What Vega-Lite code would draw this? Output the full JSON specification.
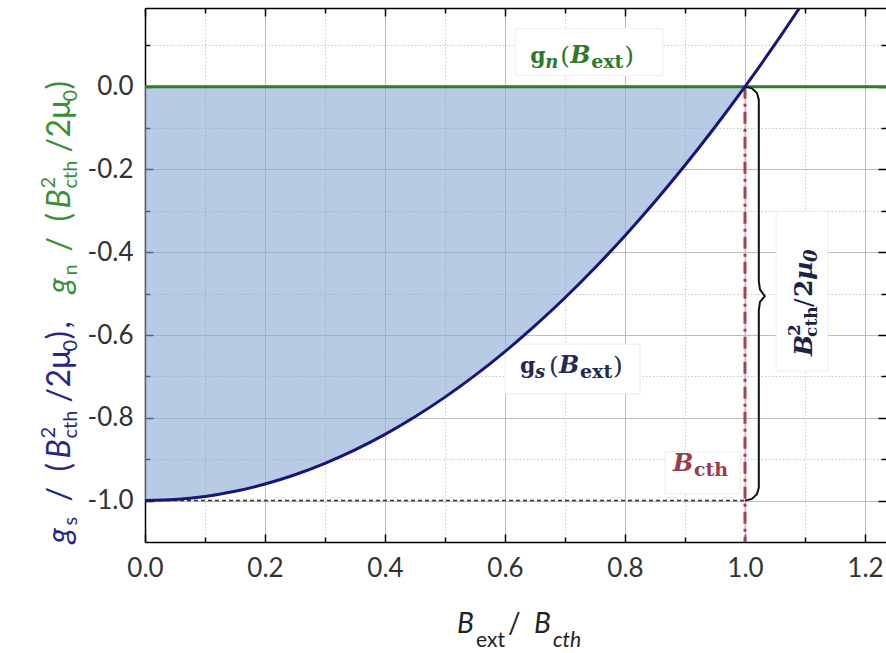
{
  "$schema": "https://vega.github.io/schema/vega-lite/v6.json",
  "width": 741,
  "height": 534,
  "autosize": {"type": "none"},
  "padding": {"left": 145, "top": 8, "right": 0, "bottom": 111},
  "background": "white",
  "config": {
    "view": {"stroke": null},
    "axis": {
      "labelFont": "Lato",
      "labelFontSize": 26,
      "labelColor": "#333333",
      "tickColor": "#000000",
      "domainColor": "#000000",
      "domainWidth": 1.5,
      "tickWidth": 1.5
    }
  },
  "datasets": {
    "gs": [
      {"b": 0.0, "g": -1.0}, {"b": 0.05, "g": -0.9975}, {"b": 0.1, "g": -0.99}, {"b": 0.15, "g": -0.9775},
      {"b": 0.2, "g": -0.96}, {"b": 0.25, "g": -0.9375}, {"b": 0.3, "g": -0.91}, {"b": 0.35, "g": -0.8775},
      {"b": 0.4, "g": -0.84}, {"b": 0.45, "g": -0.7975}, {"b": 0.5, "g": -0.75}, {"b": 0.55, "g": -0.6975},
      {"b": 0.6, "g": -0.64}, {"b": 0.65, "g": -0.5775}, {"b": 0.7, "g": -0.51}, {"b": 0.75, "g": -0.4375},
      {"b": 0.8, "g": -0.36}, {"b": 0.85, "g": -0.2775}, {"b": 0.9, "g": -0.19}, {"b": 0.95, "g": -0.0975},
      {"b": 1.0, "g": 0.0}, {"b": 1.05, "g": 0.1025}, {"b": 1.1, "g": 0.21}
    ],
    "brace": [
      {"i": 0, "b": 1.0, "g": 0.0}, {"i": 1, "b": 1.0115, "g": -0.0042}, {"i": 2, "b": 1.0199, "g": -0.0155},
      {"i": 3, "b": 1.023, "g": -0.031}, {"i": 4, "b": 1.023, "g": -0.47}, {"i": 5, "b": 1.025, "g": -0.49},
      {"i": 6, "b": 1.033, "g": -0.506}, {"i": 7, "b": 1.025, "g": -0.52}, {"i": 8, "b": 1.023, "g": -0.54},
      {"i": 9, "b": 1.023, "g": -0.969}, {"i": 10, "b": 1.0199, "g": -0.9845}, {"i": 11, "b": 1.0115, "g": -0.9958},
      {"i": 12, "b": 1.0, "g": -1.0}
    ],
    "boxes": [
      {"x1": 0.617, "x2": 0.863, "y1": 0.14, "y2": 0.0265},
      {"x1": 0.6, "x2": 0.825, "y1": -0.622, "y2": -0.742},
      {"x1": 0.867, "x2": 0.992, "y1": -0.882, "y2": -0.983},
      {"x1": 1.052, "x2": 1.138, "y1": -0.301, "y2": -0.687}
    ]
  },
  "resolve": {"axis": {"x": "independent", "y": "independent"}},
  "layer": [
    {
      "data": {"name": "boxes"},
      "mark": {"type": "rect", "fill": "white", "stroke": "#ececec", "strokeWidth": 1},
      "encoding": {
        "x": {"field": "x1", "type": "quantitative", "scale": {"domain": [0, 1.235], "nice": false, "zero": false}, "axis": null},
        "x2": {"field": "x2"},
        "y": {"field": "y1", "type": "quantitative", "scale": {"domain": [-1.1, 0.19], "nice": false, "zero": false}, "axis": null},
        "y2": {"field": "y2"}
      }
    },
    {
      "data": {"name": "gs"},
      "transform": [{"filter": "datum.b <= 1"}],
      "mark": {"type": "area", "color": "#89a8d2", "opacity": 0.6, "interpolate": "monotone"},
      "encoding": {
        "x": {"field": "b", "type": "quantitative", "scale": {"domain": [0, 1.235], "nice": false, "zero": false},
          "axis": {"orient": "bottom", "values": [0, 0.2, 0.4, 0.6, 0.8, 1.0, 1.2], "format": ".1f", "tickSize": -8, "labelPadding": 21,
            "grid": true, "gridColor": "#bdbdbd", "gridWidth": 1, "domain": true, "title": null, "labelFlush": false, "labelOverlap": false,
            "labelExpr": "replace(datum.label, '\u2212', '-')"}},
        "y": {"field": "g", "type": "quantitative", "scale": {"domain": [-1.1, 0.19], "nice": false, "zero": false},
          "axis": {"orient": "left", "values": [-1.0, -0.8, -0.6, -0.4, -0.2, 0.0], "format": ".1f", "tickSize": -8, "labelPadding": 20,
            "grid": true, "gridColor": "#bdbdbd", "gridWidth": 1, "domain": true, "title": null, "labelFlush": false, "labelOverlap": false,
            "labelExpr": "replace(datum.label, '\u2212', '-')"}},
        "y2": {"datum": 0}
      }
    },
    {
      "data": {"values": [{}]},
      "mark": {"type": "rule", "color": "#333333", "strokeWidth": 1.5, "strokeDash": [4, 3]},
      "encoding": {
        "x": {"datum": 0, "type": "quantitative", "scale": {"domain": [0, 1.235], "nice": false, "zero": false},
          "axis": {"orient": "bottom", "values": [0.1, 0.3, 0.5, 0.7, 0.9, 1.1], "tickSize": -5, "labels": false, "domain": false,
            "grid": true, "gridColor": "#c8c8c8", "gridDash": [1.5, 2], "title": null}},
        "x2": {"datum": 1},
        "y": {"datum": -1, "type": "quantitative", "scale": {"domain": [-1.1, 0.19], "nice": false, "zero": false},
          "axis": {"orient": "left", "values": [-0.9, -0.7, -0.5, -0.3, -0.1, 0.1], "tickSize": -5, "labels": false, "domain": false,
            "grid": true, "gridColor": "#c8c8c8", "gridDash": [1.5, 2], "title": null}}
      }
    },
    {
      "data": {"values": [{}]},
      "mark": {"type": "rule", "color": "#e6a9ae", "strokeWidth": 1},
      "encoding": {
        "x": {"datum": 1, "type": "quantitative", "scale": {"domain": [0, 1.235], "nice": false, "zero": false},
          "axis": {"orient": "top", "values": [0, 0.2, 0.4, 0.6, 0.8, 1.0, 1.2], "tickSize": -8, "labels": false, "domain": true, "grid": false, "title": null}},
        "y": {"datum": 0, "type": "quantitative", "scale": {"domain": [-1.1, 0.19], "nice": false, "zero": false},
          "axis": {"orient": "right", "values": [-1.0, -0.8, -0.6, -0.4, -0.2, 0.0], "tickSize": -8, "labels": false, "domain": false, "grid": false, "title": null}},
        "y2": {"datum": -1.1}
      }
    },
    {
      "data": {"values": [{}]},
      "mark": {"type": "rule", "color": "#a2434f", "strokeWidth": 3, "strokeDash": [12, 5, 3, 5]},
      "encoding": {
        "x": {"datum": 1, "type": "quantitative", "scale": {"domain": [0, 1.235], "nice": false, "zero": false},
          "axis": {"orient": "top", "values": [0.1, 0.3, 0.5, 0.7, 0.9, 1.1], "tickSize": -5, "labels": false, "domain": false, "grid": false, "title": null}},
        "y": {"datum": 0, "type": "quantitative", "scale": {"domain": [-1.1, 0.19], "nice": false, "zero": false},
          "axis": {"orient": "right", "values": [-0.9, -0.7, -0.5, -0.3, -0.1, 0.1], "tickSize": -5, "labels": false, "domain": false, "grid": false, "title": null}},
        "y2": {"datum": -1.1}
      }
    },
    {
      "data": {"values": [{}]},
      "mark": {"type": "rule", "color": "#2a7d2a", "strokeWidth": 3},
      "encoding": {
        "y": {"datum": 0, "type": "quantitative", "scale": {"domain": [-1.1, 0.19], "nice": false, "zero": false}, "axis": null}
      }
    },
    {
      "data": {"name": "gs"},
      "mark": {"type": "line", "color": "#16167a", "strokeWidth": 3, "clip": true, "interpolate": "monotone"},
      "encoding": {
        "x": {"field": "b", "type": "quantitative", "scale": {"domain": [0, 1.235], "nice": false, "zero": false}, "axis": null},
        "y": {"field": "g", "type": "quantitative", "scale": {"domain": [-1.1, 0.19], "nice": false, "zero": false}, "axis": null}
      }
    },
    {
      "data": {"name": "brace"},
      "mark": {"type": "line", "color": "#111111", "strokeWidth": 2},
      "encoding": {
        "x": {"field": "b", "type": "quantitative", "scale": {"domain": [0, 1.235], "nice": false, "zero": false}, "axis": null},
        "y": {"field": "g", "type": "quantitative", "scale": {"domain": [-1.1, 0.19], "nice": false, "zero": false}, "axis": null},
        "order": {"field": "i", "type": "quantitative"}
      }
    },
    {
      "data": {"values": [{}]},
      "encoding": {
        "x": {"datum": 0.642, "type": "quantitative", "scale": {"domain": [0, 1.235], "nice": false, "zero": false}, "axis": null},
        "y": {"datum": 0.058, "type": "quantitative", "scale": {"domain": [-1.1, 0.19], "nice": false, "zero": false}, "axis": null}
      },
      "layer": [
        {"mark": {"type": "text", "text": "g", "font": "DejaVu Serif", "fontWeight": "bold", "fontSize": 22, "align": "left", "baseline": "alphabetic", "dx": 0, "color": "#2d7a2d"}},
        {"mark": {"type": "text", "text": "n", "font": "DejaVu Serif", "fontWeight": "bold", "fontStyle": "italic", "fontSize": 18, "align": "left", "baseline": "alphabetic", "dx": 15, "dy": 5, "color": "#2d7a2d"}},
        {"mark": {"type": "text", "text": "(", "font": "DejaVu Serif", "fontSize": 25, "align": "left", "baseline": "alphabetic", "dx": 30, "dy": 1, "color": "#2d7a2d"}},
        {"mark": {"type": "text", "text": "B", "font": "DejaVu Serif", "fontWeight": "bold", "fontStyle": "italic", "fontSize": 24, "align": "left", "baseline": "alphabetic", "dx": 40, "color": "#2d7a2d"}},
        {"mark": {"type": "text", "text": "ext", "font": "DejaVu Serif", "fontWeight": "bold", "fontSize": 19, "align": "left", "baseline": "alphabetic", "dx": 61, "dy": 5, "color": "#2d7a2d"}},
        {"mark": {"type": "text", "text": ")", "font": "DejaVu Serif", "fontSize": 25, "align": "left", "baseline": "alphabetic", "dx": 94, "dy": 1, "color": "#2d7a2d"}}
      ]
    },
    {
      "data": {"values": [{}]},
      "encoding": {
        "x": {"datum": 0.625, "type": "quantitative", "scale": {"domain": [0, 1.235], "nice": false, "zero": false}, "axis": null},
        "y": {"datum": -0.692, "type": "quantitative", "scale": {"domain": [-1.1, 0.19], "nice": false, "zero": false}, "axis": null}
      },
      "layer": [
        {"mark": {"type": "text", "text": "g", "font": "DejaVu Serif", "fontWeight": "bold", "fontSize": 22, "align": "left", "baseline": "alphabetic", "dx": 0, "color": "#252a50"}},
        {"mark": {"type": "text", "text": "s", "font": "DejaVu Serif", "fontWeight": "bold", "fontStyle": "italic", "fontSize": 18, "align": "left", "baseline": "alphabetic", "dx": 15, "dy": 5, "color": "#252a50"}},
        {"mark": {"type": "text", "text": "(", "font": "DejaVu Serif", "fontSize": 25, "align": "left", "baseline": "alphabetic", "dx": 29, "dy": 1, "color": "#252a50"}},
        {"mark": {"type": "text", "text": "B", "font": "DejaVu Serif", "fontWeight": "bold", "fontStyle": "italic", "fontSize": 24, "align": "left", "baseline": "alphabetic", "dx": 39, "color": "#252a50"}},
        {"mark": {"type": "text", "text": "ext", "font": "DejaVu Serif", "fontWeight": "bold", "fontSize": 19, "align": "left", "baseline": "alphabetic", "dx": 60, "dy": 5, "color": "#252a50"}},
        {"mark": {"type": "text", "text": ")", "font": "DejaVu Serif", "fontSize": 25, "align": "left", "baseline": "alphabetic", "dx": 93, "dy": 1, "color": "#252a50"}}
      ]
    },
    {
      "data": {"values": [{}]},
      "encoding": {
        "x": {"datum": 0.88, "type": "quantitative", "scale": {"domain": [0, 1.235], "nice": false, "zero": false}, "axis": null},
        "y": {"datum": -0.928, "type": "quantitative", "scale": {"domain": [-1.1, 0.19], "nice": false, "zero": false}, "axis": null}
      },
      "layer": [
        {"mark": {"type": "text", "text": "B", "font": "DejaVu Serif", "fontWeight": "bold", "fontStyle": "italic", "fontSize": 24, "align": "left", "baseline": "alphabetic", "dx": 0, "color": "#9a3b48"}},
        {"mark": {"type": "text", "text": "cth", "font": "DejaVu Serif", "fontWeight": "bold", "fontSize": 19, "align": "left", "baseline": "alphabetic", "dx": 21, "dy": 5, "color": "#9a3b48"}}
      ]
    },
    {
      "data": {"values": [{}]},
      "encoding": {
        "x": {"datum": 1.1117, "type": "quantitative", "scale": {"domain": [0, 1.235], "nice": false, "zero": false}, "axis": null},
        "y": {"datum": -0.6506, "type": "quantitative", "scale": {"domain": [-1.1, 0.19], "nice": false, "zero": false}, "axis": null}
      },
      "layer": [
        {"mark": {"type": "text", "text": "B", "angle": 270, "font": "DejaVu Serif", "fontWeight": "bold", "fontStyle": "italic", "fontSize": 25, "align": "left", "baseline": "alphabetic", "dx": 0, "color": "#1c2444"}},
        {"mark": {"type": "text", "text": "2", "angle": 270, "font": "DejaVu Serif", "fontWeight": "bold", "fontSize": 17, "align": "left", "baseline": "alphabetic", "dx": 20, "dy": -12, "color": "#1c2444"}},
        {"mark": {"type": "text", "text": "cth", "angle": 270, "font": "DejaVu Serif", "fontWeight": "bold", "fontSize": 17, "align": "left", "baseline": "alphabetic", "dx": 19, "dy": 5, "color": "#1c2444"}},
        {"mark": {"type": "text", "text": "/", "angle": 270, "font": "DejaVu Serif", "fontSize": 25, "align": "left", "baseline": "alphabetic", "dx": 49, "color": "#1c2444"}},
        {"mark": {"type": "text", "text": "2", "angle": 270, "font": "DejaVu Serif", "fontWeight": "bold", "fontSize": 25, "align": "left", "baseline": "alphabetic", "dx": 59, "color": "#1c2444"}},
        {"mark": {"type": "text", "text": "µ", "angle": 270, "font": "DejaVu Serif", "fontWeight": "bold", "fontStyle": "italic", "fontSize": 25, "align": "left", "baseline": "alphabetic", "dx": 76, "color": "#1c2444"}},
        {"mark": {"type": "text", "text": "0", "angle": 270, "font": "DejaVu Serif", "fontWeight": "bold", "fontStyle": "italic", "fontSize": 18, "align": "left", "baseline": "alphabetic", "dx": 94, "dy": 5, "color": "#1c2444"}}
      ]
    },
    {
      "data": {"values": [{}]},
      "encoding": {
        "x": {"datum": -0.125, "type": "quantitative", "scale": {"domain": [0, 1.235], "nice": false, "zero": false}, "axis": null},
        "y": {"datum": -1.1036, "type": "quantitative", "scale": {"domain": [-1.1, 0.19], "nice": false, "zero": false}, "axis": null}
      },
      "layer": [
        {"mark": {"type": "text", "text": "g", "angle": 270, "font": "Lato", "fontStyle": "italic", "fontSize": 32, "align": "left", "baseline": "alphabetic", "dx": 0, "color": "#26268c"}},
        {"mark": {"type": "text", "text": "s", "angle": 270, "font": "Lato", "fontSize": 20, "align": "left", "baseline": "alphabetic", "dx": 18, "dy": 7, "color": "#26268c"}},
        {"mark": {"type": "text", "text": "/", "angle": 270, "font": "Lato", "fontSize": 32, "align": "left", "baseline": "alphabetic", "dx": 42, "color": "#26268c"}},
        {"mark": {"type": "text", "text": "(", "angle": 270, "font": "Lato", "fontSize": 32, "align": "left", "baseline": "alphabetic", "dx": 72, "color": "#26268c"}},
        {"mark": {"type": "text", "text": "B", "angle": 270, "font": "Lato", "fontStyle": "italic", "fontSize": 32, "align": "left", "baseline": "alphabetic", "dx": 85, "color": "#26268c"}},
        {"mark": {"type": "text", "text": "2", "angle": 270, "font": "Lato", "fontSize": 20, "align": "left", "baseline": "alphabetic", "dx": 105, "dy": -15, "color": "#26268c"}},
        {"mark": {"type": "text", "text": "cth", "angle": 270, "font": "Lato", "fontSize": 20, "align": "left", "baseline": "alphabetic", "dx": 105, "dy": 7, "color": "#26268c"}},
        {"mark": {"type": "text", "text": "/", "angle": 270, "font": "Lato", "fontSize": 32, "align": "left", "baseline": "alphabetic", "dx": 141, "color": "#26268c"}},
        {"mark": {"type": "text", "text": "2", "angle": 270, "font": "Lato", "fontSize": 32, "align": "left", "baseline": "alphabetic", "dx": 156, "color": "#26268c"}},
        {"mark": {"type": "text", "text": "µ", "angle": 270, "font": "Lato", "fontSize": 32, "align": "left", "baseline": "alphabetic", "dx": 174, "color": "#26268c"}},
        {"mark": {"type": "text", "text": "0", "angle": 270, "font": "Lato", "fontSize": 20, "align": "left", "baseline": "alphabetic", "dx": 192, "dy": 7, "color": "#26268c"}},
        {"mark": {"type": "text", "text": ")", "angle": 270, "font": "Lato", "fontSize": 32, "align": "left", "baseline": "alphabetic", "dx": 204, "color": "#26268c"}},
        {"mark": {"type": "text", "text": ",", "angle": 270, "font": "Lato", "fontSize": 32, "align": "left", "baseline": "alphabetic", "dx": 215, "color": "#26268c"}},
        {"mark": {"type": "text", "text": "g", "angle": 270, "font": "Lato", "fontStyle": "italic", "fontSize": 32, "align": "left", "baseline": "alphabetic", "dx": 250, "color": "#3a8f3a"}},
        {"mark": {"type": "text", "text": "n", "angle": 270, "font": "Lato", "fontSize": 20, "align": "left", "baseline": "alphabetic", "dx": 268, "dy": 7, "color": "#3a8f3a"}},
        {"mark": {"type": "text", "text": "/", "angle": 270, "font": "Lato", "fontSize": 32, "align": "left", "baseline": "alphabetic", "dx": 292, "color": "#3a8f3a"}},
        {"mark": {"type": "text", "text": "(", "angle": 270, "font": "Lato", "fontSize": 32, "align": "left", "baseline": "alphabetic", "dx": 322, "color": "#3a8f3a"}},
        {"mark": {"type": "text", "text": "B", "angle": 270, "font": "Lato", "fontStyle": "italic", "fontSize": 32, "align": "left", "baseline": "alphabetic", "dx": 335, "color": "#3a8f3a"}},
        {"mark": {"type": "text", "text": "2", "angle": 270, "font": "Lato", "fontSize": 20, "align": "left", "baseline": "alphabetic", "dx": 355, "dy": -15, "color": "#3a8f3a"}},
        {"mark": {"type": "text", "text": "cth", "angle": 270, "font": "Lato", "fontSize": 20, "align": "left", "baseline": "alphabetic", "dx": 355, "dy": 7, "color": "#3a8f3a"}},
        {"mark": {"type": "text", "text": "/", "angle": 270, "font": "Lato", "fontSize": 32, "align": "left", "baseline": "alphabetic", "dx": 391, "color": "#3a8f3a"}},
        {"mark": {"type": "text", "text": "2", "angle": 270, "font": "Lato", "fontSize": 32, "align": "left", "baseline": "alphabetic", "dx": 406, "color": "#3a8f3a"}},
        {"mark": {"type": "text", "text": "µ", "angle": 270, "font": "Lato", "fontSize": 32, "align": "left", "baseline": "alphabetic", "dx": 424, "color": "#3a8f3a"}},
        {"mark": {"type": "text", "text": "0", "angle": 270, "font": "Lato", "fontSize": 20, "align": "left", "baseline": "alphabetic", "dx": 442, "dy": 7, "color": "#3a8f3a"}},
        {"mark": {"type": "text", "text": ")", "angle": 270, "font": "Lato", "fontSize": 32, "align": "left", "baseline": "alphabetic", "dx": 454, "color": "#3a8f3a"}}
      ]
    },
    {
      "data": {"values": [{}]},
      "encoding": {
        "x": {"datum": 0.5217, "type": "quantitative", "scale": {"domain": [0, 1.235], "nice": false, "zero": false}, "axis": null},
        "y": {"datum": -1.3205, "type": "quantitative", "scale": {"domain": [-1.1, 0.19], "nice": false, "zero": false}, "axis": null}
      },
      "layer": [
        {"mark": {"type": "text", "text": "B", "font": "Lato", "fontStyle": "italic", "fontSize": 28, "align": "left", "baseline": "alphabetic", "dx": -1, "color": "#222222"}},
        {"mark": {"type": "text", "text": "ext", "font": "Lato", "fontSize": 21, "align": "left", "baseline": "alphabetic", "dx": 18, "dy": 14, "color": "#222222"}},
        {"mark": {"type": "text", "text": "/", "font": "Lato", "fontSize": 28, "align": "left", "baseline": "alphabetic", "dx": 50, "color": "#222222"}},
        {"mark": {"type": "text", "text": "B", "font": "Lato", "fontStyle": "italic", "fontSize": 28, "align": "left", "baseline": "alphabetic", "dx": 76, "color": "#222222"}},
        {"mark": {"type": "text", "text": "cth", "font": "Lato", "fontStyle": "italic", "fontSize": 21, "align": "left", "baseline": "alphabetic", "dx": 95, "dy": 14, "color": "#222222"}}
      ]
    }
  ]
}
